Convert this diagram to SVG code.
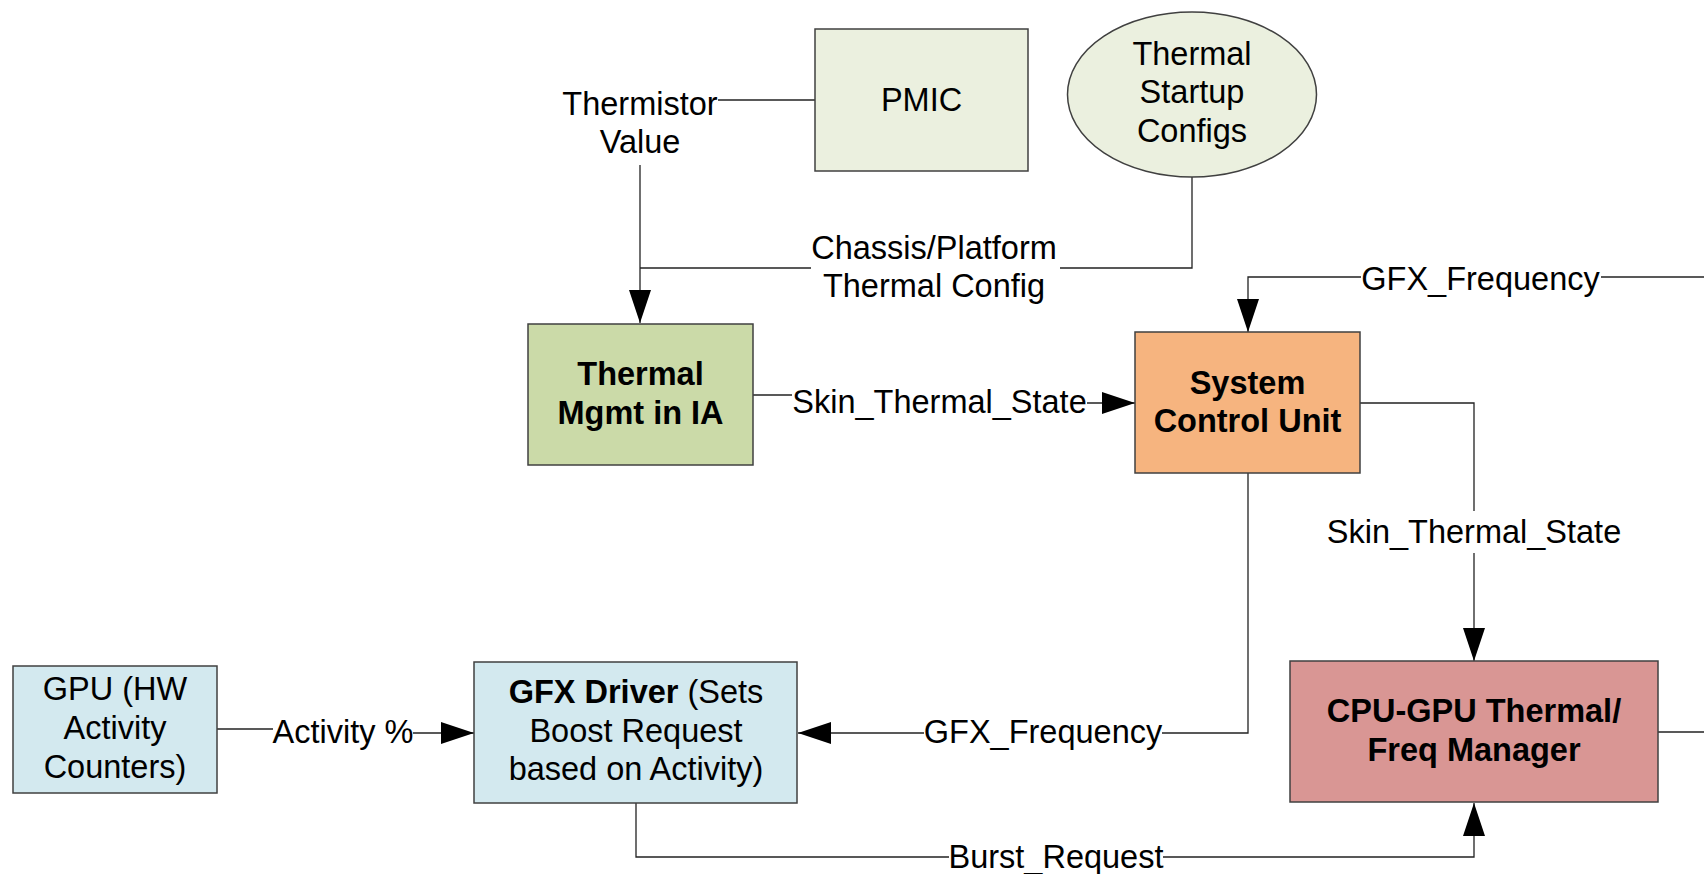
<svg xmlns="http://www.w3.org/2000/svg" width="1704" height="874" viewBox="0 0 1704 874">
  <style>
    .box { stroke: #404040; stroke-width: 1.5; }
    .t { font-family: "Liberation Sans", Arial, sans-serif; font-size: 32.5px; fill: #000; text-anchor: middle; }
    .b { font-weight: bold; }
    .wire { fill: none; stroke: #222; stroke-width: 1.3; }
  </style>
  <defs>
    <marker id="arrow" markerUnits="userSpaceOnUse" markerWidth="34" markerHeight="24" refX="33" refY="11" orient="auto">
      <path d="M0,0 L33,11 L0,22 z" fill="#000"/>
    </marker>
  </defs>

  <rect width="1704" height="874" fill="#fff"/>

  <!-- connectors -->
  <g id="connectors">
    <!-- PMIC to thermistor label, then down into Thermal Mgmt -->
    <path class="wire" d="M815,100 H718"/>
    <path class="wire" d="M640,165 V323" marker-end="url(#arrow)"/>
    <!-- startup configs into the same drop -->
    <path class="wire" d="M1192,177 V268 H1060"/>
    <path class="wire" d="M811,268 H640"/>
    <!-- Thermal Mgmt to System Control Unit -->
    <path class="wire" d="M753,395 H792"/>
    <path class="wire" d="M1087,403 H1135" marker-end="url(#arrow)"/>
    <!-- GFX_Frequency feedback from the right into SCU -->
    <path class="wire" d="M1704,277 H1601"/>
    <path class="wire" d="M1361,277 H1248 V332" marker-end="url(#arrow)"/>
    <!-- SCU to CPU-GPU manager -->
    <path class="wire" d="M1360,403 H1474 V511"/>
    <path class="wire" d="M1474,553 V661" marker-end="url(#arrow)"/>
    <!-- CPU-GPU manager exits right -->
    <path class="wire" d="M1658,732 H1704"/>
    <!-- SCU down to GFX Driver -->
    <path class="wire" d="M1248,473 V733 H1162"/>
    <path class="wire" d="M924,733 H798" marker-end="url(#arrow)"/>
    <!-- GPU activity into GFX Driver -->
    <path class="wire" d="M217,729 H273"/>
    <path class="wire" d="M413,733 H474" marker-end="url(#arrow)"/>
    <!-- Burst request back up to CPU-GPU manager -->
    <path class="wire" d="M636,803 V857 H949"/>
    <path class="wire" d="M1163,857 H1474 V803" marker-end="url(#arrow)"/>

    <!-- connector labels -->
    <text class="t" x="640" y="115">Thermistor</text>
    <text class="t" x="640" y="153">Value</text>
    <text class="t" x="934" y="259">Chassis/Platform</text>
    <text class="t" x="934" y="297">Thermal Config</text>
    <text class="t" x="939.5" y="413">Skin_Thermal_State</text>
    <text class="t" x="1480.5" y="290">GFX_Frequency</text>
    <text class="t" x="1474" y="543">Skin_Thermal_State</text>
    <text class="t" x="1043" y="743">GFX_Frequency</text>
    <text class="t" x="343" y="743">Activity %</text>
    <text class="t" x="1056" y="868">Burst_Request</text>
  </g>

  <g id="pmic">
    <rect class="box" x="815" y="29" width="213" height="142" fill="#EBF0DF"/>
    <text class="t" x="921.5" y="111">PMIC</text>
  </g>

  <g id="thermal-startup-configs">
    <ellipse class="box" cx="1192" cy="94.5" rx="124.5" ry="82.5" fill="#EBF0DF"/>
    <text class="t" x="1192" y="65">Thermal</text>
    <text class="t" x="1192" y="103">Startup</text>
    <text class="t" x="1192" y="142">Configs</text>
  </g>

  <g id="thermal-mgmt-ia">
    <rect class="box" x="528" y="324" width="225" height="141" fill="#CBDAA8"/>
    <text class="t b" x="640.5" y="385">Thermal</text>
    <text class="t b" x="640.5" y="424">Mgmt in IA</text>
  </g>

  <g id="system-control-unit">
    <rect class="box" x="1135" y="332" width="225" height="141" fill="#F6B47F"/>
    <text class="t b" x="1247.5" y="394">System</text>
    <text class="t b" x="1247.5" y="432">Control Unit</text>
  </g>

  <g id="cpu-gpu-manager">
    <rect class="box" x="1290" y="661" width="368" height="141" fill="#D99694"/>
    <text class="t b" x="1474" y="722">CPU-GPU Thermal/</text>
    <text class="t b" x="1474" y="761">Freq Manager</text>
  </g>

  <g id="gpu-counters">
    <rect class="box" x="13" y="666" width="204" height="127" fill="#D3E9EF"/>
    <text class="t" x="115" y="700">GPU (HW</text>
    <text class="t" x="115" y="739">Activity</text>
    <text class="t" x="115" y="778">Counters)</text>
  </g>

  <g id="gfx-driver">
    <rect class="box" x="474" y="662" width="323" height="141" fill="#D3E9EF"/>
    <text class="t" x="636" y="703"><tspan class="b">GFX Driver</tspan> (Sets</text>
    <text class="t" x="636" y="742">Boost Request</text>
    <text class="t" x="636" y="780">based on Activity)</text>
  </g>
</svg>
